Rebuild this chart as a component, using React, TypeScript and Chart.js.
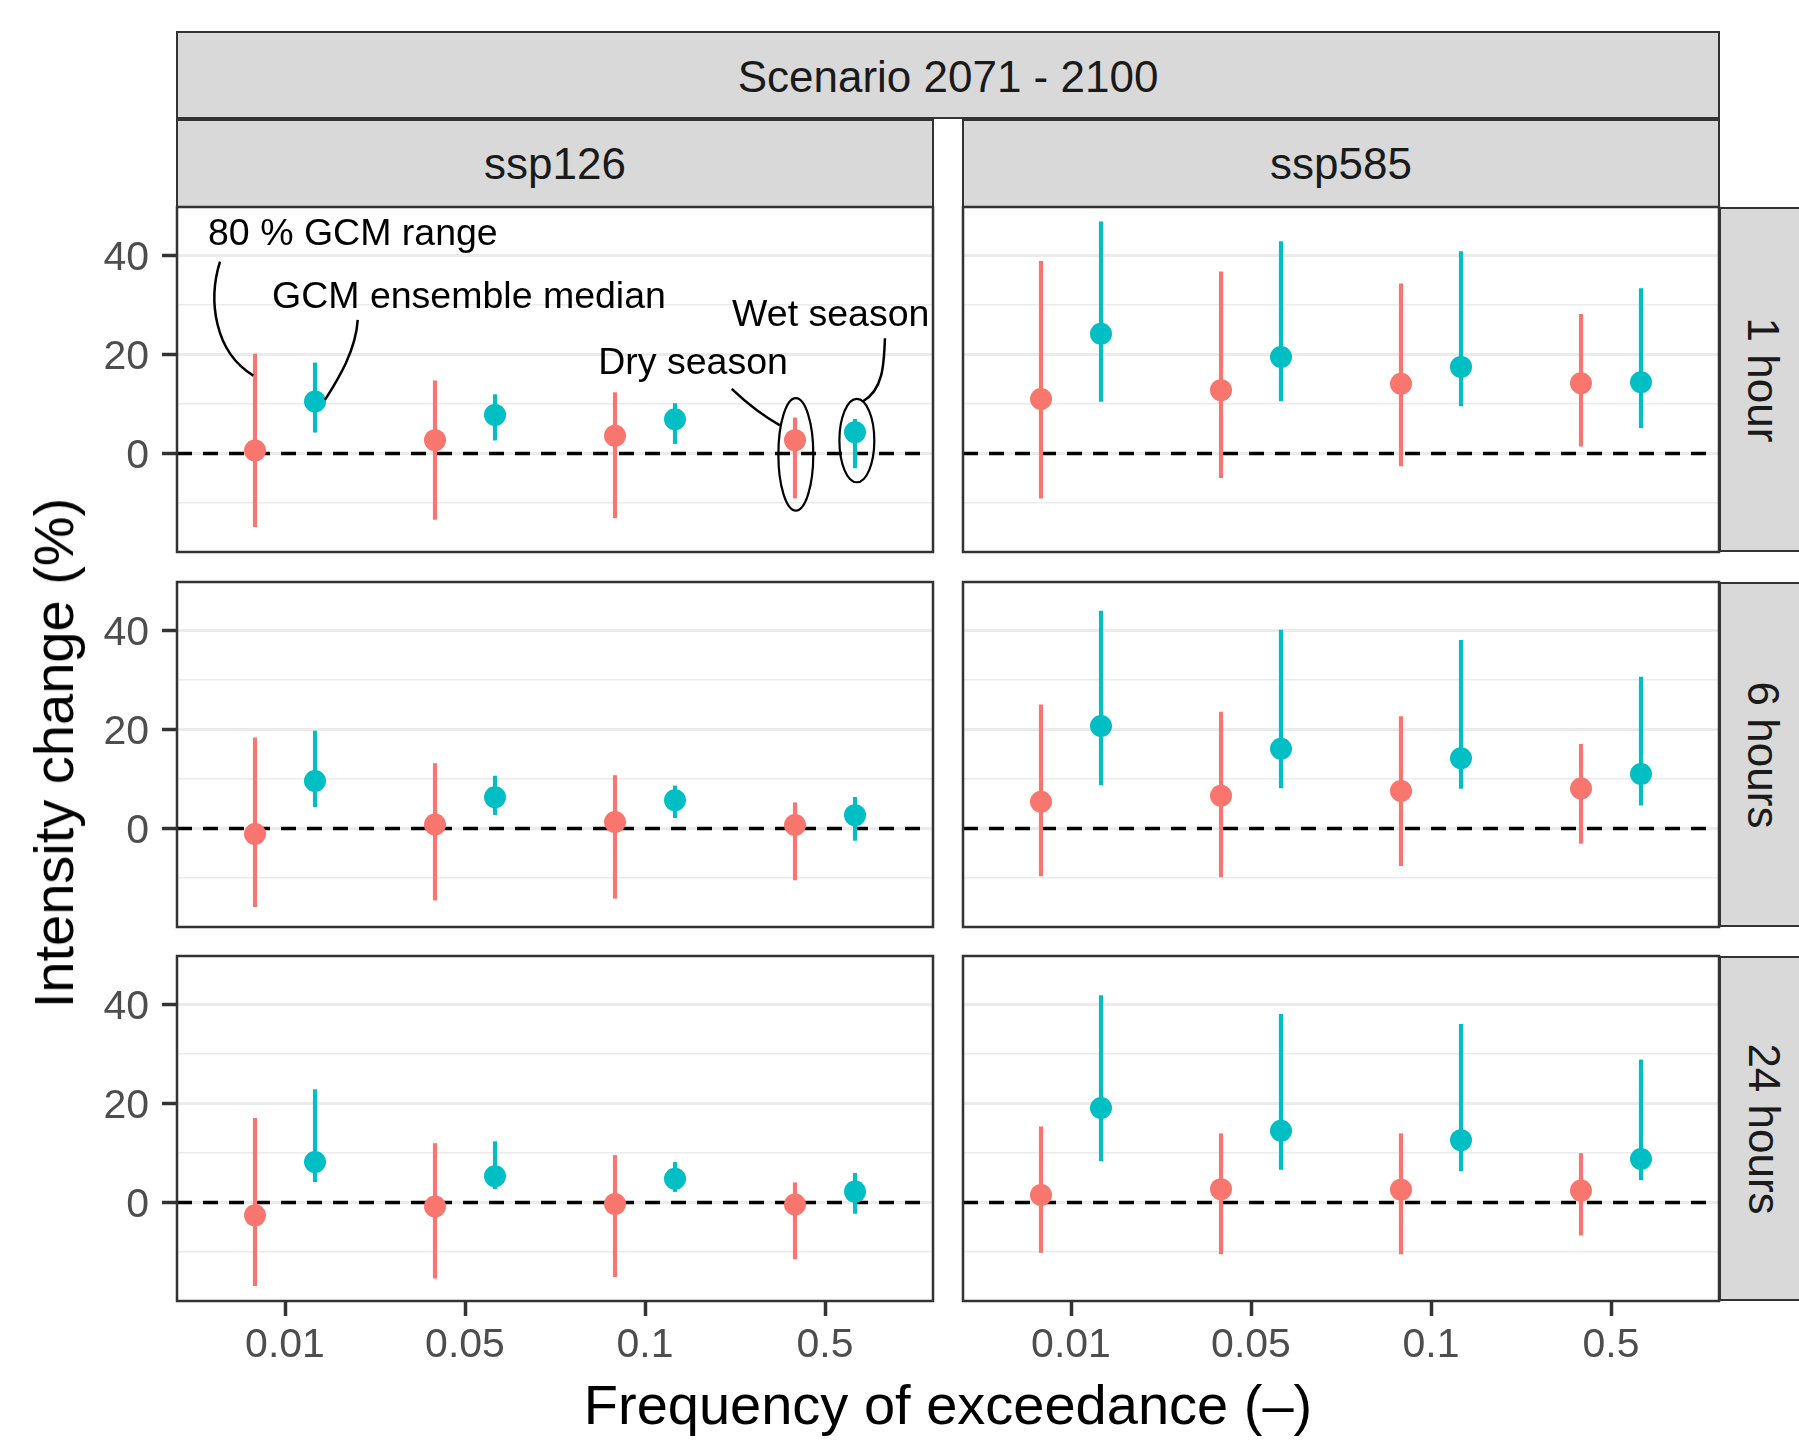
import React, { useEffect, useRef } from "react";
import { Chart, registerables } from "chart.js";

Chart.register(...registerables);

// ---------- data ----------
const frequencies = ["0.01", "0.05", "0.1", "0.5"];
const scenarios = ["ssp126", "ssp585"];
const durations = ["1 hour", "6 hours", "24 hours"];
const scenarioTitle = "Scenario 2071 - 2100";
const xAxisTitle = "Frequency of exceedance (–)";
const yAxisTitle = "Intensity change (%)";
const yMajorTicks = [0, 20, 40];
const yMin = -19.9;
const yMax = 49.8;
const dodge = 1 / 6;

// rows = durations (1 h, 6 h, 24 h); columns = frequencies
const dryMedian126 = [[0.6, 2.7, 3.6, 2.7], [-1.1, 0.8, 1.3, 0.7], [-2.6, -0.8, -0.3, -0.4]];
const dryLow126 = [[-14.8, -13.3, -13.0, -9.0], [-15.8, -14.5, -14.1, -10.4], [-16.8, -15.3, -15.0, -11.4]];
const dryHigh126 = [[20.1, 14.7, 12.3, 7.2], [18.3, 13.1, 10.7, 5.2], [17.0, 11.9, 9.5, 4.0]];
const wetMedian126 = [[10.5, 7.8, 6.9, 4.3], [9.6, 6.3, 5.7, 2.7], [8.2, 5.3, 4.8, 2.2]];
const wetLow126 = [[4.3, 2.7, 2.0, -2.9], [4.4, 2.8, 2.2, -2.4], [4.2, 2.8, 2.2, -2.2]];
const wetHigh126 = [[18.3, 11.9, 10.1, 6.9], [19.7, 10.6, 8.6, 6.3], [22.8, 12.3, 8.1, 5.9]];

const dryMedian585 = [[11.0, 12.8, 14.1, 14.2], [5.4, 6.6, 7.6, 8.1], [1.5, 2.7, 2.6, 2.4]];
const dryLow585 = [[-9.0, -4.9, -2.5, 1.5], [-9.6, -9.8, -7.5, -3.0], [-10.1, -10.4, -10.4, -6.6]];
const dryHigh585 = [[38.8, 36.7, 34.3, 28.1], [25.0, 23.5, 22.6, 17.0], [15.3, 13.9, 13.9, 9.9]];
const wetMedian585 = [[24.2, 19.5, 17.5, 14.4], [20.7, 16.1, 14.2, 11.0], [19.1, 14.5, 12.6, 8.8]];
const wetLow585 = [[10.5, 10.6, 9.6, 5.2], [8.8, 8.2, 8.1, 4.7], [8.4, 6.7, 6.4, 4.6]];
const wetHigh585 = [[46.8, 42.8, 40.8, 33.3], [43.9, 40.1, 38.0, 30.6], [41.8, 38.0, 36.0, 28.8]];

// annotation in the first panel (data units)
const annotationLabels = ["80 % GCM range", "GCM ensemble median", "Dry season", "Wet season"];
const annotationLabelX = [1.377, 2.022, 3.267, 4.032];
const annotationLabelY = [44.3, 31.5, 18.2, 27.8];
const annotationCurves = [
  [0.639, 38.77, 0.572, 31.03, 0.606, 20.53, 0.824, 15.74],
  [1.404, 26.99, 1.394, 20.93, 1.3, 15.27, 1.222, 10.83],
  [3.482, 13.05, 3.55, 10.7, 3.64, 7.9, 3.75, 5.7],
  [4.333, 23.29, 4.328, 17.9, 4.322, 12.8, 4.209, 10.51],
];
const annotationEllipses = [
  [3.838, -0.18, 0.097, 11.35],
  [4.177, 2.61, 0.097, 8.42],
];

// ---------- style ----------
const RED = "#F8766D";
const TEAL = "#00BFC4";
const FONT = "'Liberation Sans', Arial, Helvetica, sans-serif";
const PANEL_LEFT = [177, 963];
const PANEL_TOP = [207, 582, 956];
const PANEL_W = 756;
const PANEL_H = 345;
const X_AXIS_H = 78;
const PAD = 40;

const seriesTable: Record<string, any> = {
  ssp126: { dryMed: dryMedian126, dryLo: dryLow126, dryHi: dryHigh126, wetMed: wetMedian126, wetLo: wetLow126, wetHi: wetHigh126 },
  ssp585: { dryMed: dryMedian585, dryLo: dryLow585, dryHi: dryHigh585, wetMed: wetMedian585, wetLo: wetLow585, wetHi: wetHigh585 },
};

function makePlugin(row: number, col: number) {
  return {
    id: "panelDecor" + row + col,
    beforeDatasetsDraw(chart: any) {
      const { ctx, chartArea: a, scales } = chart;
      const y0 = scales.y.getPixelForValue(0);
      ctx.save();
      ctx.beginPath();
      ctx.rect(a.left, a.top, a.right - a.left, a.bottom - a.top);
      ctx.clip();
      ctx.setLineDash([15, 11]);
      ctx.lineWidth = 3.3;
      ctx.strokeStyle = "#000000";
      ctx.beginPath();
      ctx.moveTo(a.left, y0);
      ctx.lineTo(a.right - 6, y0);
      ctx.stroke();
      ctx.restore();
    },
    afterDatasetsDraw(chart: any) {
      const { ctx, chartArea: a, scales } = chart;
      const xs = scales.x;
      const ys = scales.y;
      if (row === 0 && col === 0) {
        ctx.save();
        ctx.fillStyle = "#000000";
        ctx.font = `37.5px ${FONT}`;
        ctx.textAlign = "center";
        ctx.textBaseline = "middle";
        annotationLabels.forEach((t, i) => {
          ctx.fillText(t, xs.getPixelForValue(annotationLabelX[i]), ys.getPixelForValue(annotationLabelY[i]));
        });
        ctx.strokeStyle = "#000000";
        ctx.lineWidth = 2.5;
        annotationCurves.forEach((c) => {
          ctx.beginPath();
          ctx.moveTo(xs.getPixelForValue(c[0]), ys.getPixelForValue(c[1]));
          ctx.bezierCurveTo(
            xs.getPixelForValue(c[2]), ys.getPixelForValue(c[3]),
            xs.getPixelForValue(c[4]), ys.getPixelForValue(c[5]),
            xs.getPixelForValue(c[6]), ys.getPixelForValue(c[7])
          );
          ctx.stroke();
        });
        ctx.lineWidth = 2.2;
        annotationEllipses.forEach((e) => {
          const cx = xs.getPixelForValue(e[0]);
          const cy = ys.getPixelForValue(e[1]);
          const rx = Math.abs(xs.getPixelForValue(e[0] + e[2]) - cx);
          const ry = Math.abs(ys.getPixelForValue(e[1] + e[3]) - cy);
          ctx.beginPath();
          ctx.ellipse(cx, cy, rx, ry, 0, 0, Math.PI * 2);
          ctx.stroke();
        });
        ctx.restore();
      }
      ctx.save();
      ctx.strokeStyle = "#333333";
      ctx.lineWidth = 2.5;
      ctx.strokeRect(a.left, a.top, a.right - a.left, a.bottom - a.top);
      ctx.restore();
    },
  };
}

function buildChart(canvas: HTMLCanvasElement, row: number, col: number) {
  const s = seriesTable[scenarios[col]];
  const pts = (arr: number[][], off: number) =>
    frequencies.map((_, i) => ({ x: i + 1 + off, y: arr[row][i] }));
  const rng = (lo: number[][], hi: number[][], off: number) =>
    frequencies.map((_, i) => ({ x: i + 1 + off, y: [lo[row][i], hi[row][i]] }));
  const isMajor = (ctx: any) => ctx.tick && yMajorTicks.includes(ctx.tick.value);

  return new Chart(canvas, {
    type: "scatter",
    data: {
      datasets: [
        { type: "scatter", label: "Dry season", data: pts(s.dryMed, -dodge), backgroundColor: RED, pointRadius: 11, pointHoverRadius: 11, pointBorderWidth: 0, borderWidth: 0, order: 0 } as any,
        { type: "scatter", label: "Wet season", data: pts(s.wetMed, dodge), backgroundColor: TEAL, pointRadius: 11, pointHoverRadius: 11, pointBorderWidth: 0, borderWidth: 0, order: 0 } as any,
        { type: "bar", label: "Dry range", data: rng(s.dryLo, s.dryHi, -dodge), backgroundColor: RED, barThickness: 3.5, grouped: false, borderWidth: 0, order: 1 } as any,
        { type: "bar", label: "Wet range", data: rng(s.wetLo, s.wetHi, dodge), backgroundColor: TEAL, barThickness: 3.5, grouped: false, borderWidth: 0, order: 1 } as any,
      ],
    },
    options: {
      animation: false,
      responsive: false,
      devicePixelRatio: 1,
      events: [],
      layout: {
        padding: {
          left: col === 0 ? 0 : PAD,
          right: PAD,
          top: PAD,
          bottom: row === 2 ? 0 : PAD,
        },
      },
      plugins: { legend: { display: false }, tooltip: { enabled: false } },
      scales: {
        x: {
          type: "linear",
          min: 0.4,
          max: 4.6,
          offset: false,
          display: row === 2,
          afterBuildTicks: (sc: any) => {
            sc.ticks = frequencies.map((_, i) => ({ value: i + 1 }));
          },
          afterFit: (sc: any) => {
            if (row === 2) sc.height = X_AXIS_H;
          },
          border: { display: false },
          grid: {
            display: true,
            offset: false,
            drawOnChartArea: false,
            drawTicks: true,
            tickLength: 15,
            tickColor: "#333333",
            tickWidth: 3.5,
            color: "rgba(0,0,0,0)",
          },
          ticks: {
            autoSkip: false,
            maxRotation: 0,
            minRotation: 0,
            padding: 5,
            color: "#4D4D4D",
            font: { size: 41, family: FONT },
            callback: (v: any) => frequencies[Math.round(Number(v)) - 1] ?? "",
          },
        },
        y: {
          type: "linear",
          min: yMin,
          max: yMax,
          beginAtZero: false,
          afterFit: (sc: any) => {
            sc.width = col === 0 ? PANEL_LEFT[0] : 0;
          },
          border: { display: false },
          grid: {
            color: "#EBEBEB",
            lineWidth: (ctx: any) => (isMajor(ctx) ? 3 : 1.5),
            drawTicks: col === 0,
            tickLength: 15,
            tickWidth: 3.5,
            tickColor: (ctx: any) => (isMajor(ctx) ? "#333333" : "rgba(0,0,0,0)"),
          },
          ticks: {
            display: col === 0,
            autoSkip: false,
            stepSize: 10,
            includeBounds: false,
            padding: 13,
            labelOffset: 3.5,
            color: "#4D4D4D",
            font: { size: 41, family: FONT },
            callback: (v: any) => (yMajorTicks.includes(Number(v)) ? String(v) : ""),
          },
        },
      },
    } as any,
    plugins: [makePlugin(row, col) as any],
  });
}

function Panel({ row, col }: { row: number; col: number }) {
  const ref = useRef<HTMLCanvasElement | null>(null);
  const padL = col === 0 ? PANEL_LEFT[0] : PAD;
  const width = padL + PANEL_W + PAD;
  const height = PAD + PANEL_H + (row === 2 ? X_AXIS_H : PAD);
  const left = PANEL_LEFT[col] - padL;
  const top = PANEL_TOP[row] - PAD;
  useEffect(() => {
    if (!ref.current) return;
    const chart = buildChart(ref.current, row, col);
    return () => chart.destroy();
  }, [row, col]);
  return (
    <canvas
      ref={ref}
      width={width}
      height={height}
      style={{ position: "absolute", left, top, width, height }}
    />
  );
}

const stripStyle: React.CSSProperties = {
  position: "absolute",
  boxSizing: "border-box",
  background: "#D9D9D9",
  border: "2px solid #333333",
  display: "flex",
  alignItems: "center",
  justifyContent: "center",
  color: "#1A1A1A",
  fontSize: 44,
  lineHeight: 1,
  whiteSpace: "nowrap",
};

export default function App() {
  return (
    <div
      style={{
        position: "fixed",
        left: 0,
        top: 0,
        width: 1799,
        height: 1440,
        background: "#FFFFFF",
        overflow: "hidden",
        fontFamily: FONT,
      }}
    >
      <div style={{ ...stripStyle, left: 176, top: 31, width: 1720 - 176, height: 88, paddingTop: 3 }}>
        {scenarioTitle}
      </div>
      {scenarios.map((sc, c) => (
        <div
          key={sc}
          style={{ ...stripStyle, left: PANEL_LEFT[c] - 1, top: 119, width: PANEL_W + 2, height: 89 }}
        >
          {sc}
        </div>
      ))}
      {durations.map((d, r) => (
        <div
          key={d}
          style={{ ...stripStyle, left: 1719, top: PANEL_TOP[r], width: 89, height: PANEL_H }}
        >
          <span style={{ display: "inline-block", transform: "rotate(90deg)" }}>{d}</span>
        </div>
      ))}
      {durations.map((d, r) =>
        scenarios.map((sc, c) => <Panel key={d + sc} row={r} col={c} />)
      )}
      <div
        style={{
          position: "absolute",
          left: 54,
          top: 753,
          transform: "translate(-50%, -50%) rotate(-90deg)",
          fontSize: 56,
          lineHeight: 1,
          whiteSpace: "nowrap",
          color: "#000000",
        }}
      >
        {yAxisTitle}
      </div>
      <div
        style={{
          position: "absolute",
          left: 948,
          top: 1405,
          transform: "translate(-50%, -50%)",
          fontSize: 56,
          lineHeight: 1,
          whiteSpace: "nowrap",
          color: "#000000",
        }}
      >
        {xAxisTitle}
      </div>
    </div>
  );
}
